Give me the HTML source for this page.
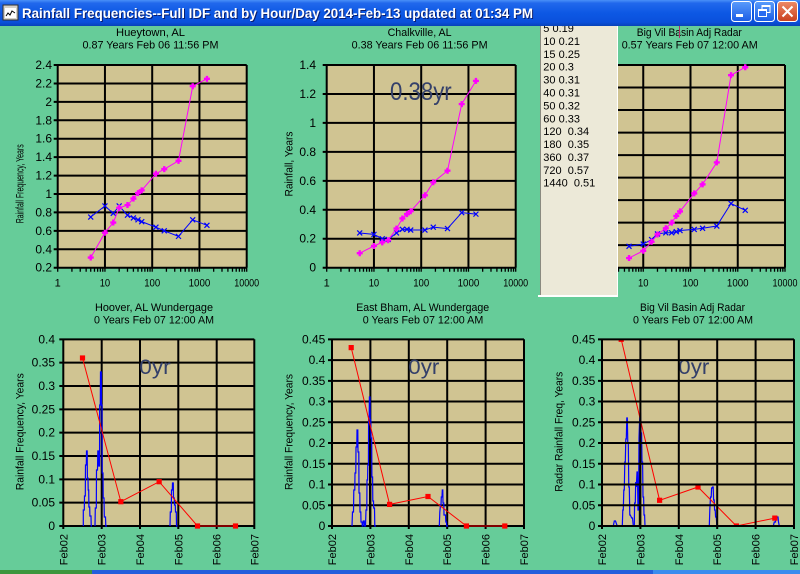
<!DOCTYPE html>
<html><head><meta charset="utf-8"><style>
html,body{margin:0;padding:0;background:#66cc99;}
svg{display:block;}
text{font-family:"Liberation Sans",Arial,sans-serif;}
</style></head><body>
<svg width="800" height="574" viewBox="0 0 800 574" xmlns="http://www.w3.org/2000/svg">
<defs>
<linearGradient id="tb" x1="0" y1="0" x2="0" y2="1">
<stop offset="0" stop-color="#4a90f8"/><stop offset="0.12" stop-color="#2168ec"/><stop offset="0.5" stop-color="#0d58e4"/><stop offset="0.85" stop-color="#0a50dc"/><stop offset="1" stop-color="#0842b8"/>
</linearGradient>
<linearGradient id="bb" x1="0" y1="0" x2="0" y2="1"><stop offset="0" stop-color="#5a9cfb"/><stop offset="1" stop-color="#1a5ce6"/></linearGradient>
<linearGradient id="bc" x1="0" y1="0" x2="0" y2="1"><stop offset="0" stop-color="#ee8a66"/><stop offset="1" stop-color="#c9401f"/></linearGradient>
<path id="lt" d="M0,0v4m14.22,-4v4m8.32,-4v4m5.91,-4v4m4.58,-4v4m3.74,-4v4m3.16,-4v4m2.74,-4v4m2.42,-4v4m2.16,-4v4m14.22,-4v4m8.32,-4v4m5.91,-4v4m4.58,-4v4m3.74,-4v4m3.16,-4v4m2.74,-4v4m2.42,-4v4m2.16,-4v4m14.22,-4v4m8.32,-4v4m5.91,-4v4m4.58,-4v4m3.74,-4v4m3.16,-4v4m2.74,-4v4m2.42,-4v4m2.16,-4v4m14.22,-4v4m8.32,-4v4m5.91,-4v4m4.58,-4v4m3.74,-4v4m3.16,-4v4m2.74,-4v4m2.42,-4v4m2.16,-4v4" stroke="#000" stroke-width="1.3" fill="none"/>
<marker id="mx" markerWidth="8" markerHeight="8" refX="0" refY="0" markerUnits="userSpaceOnUse" overflow="visible"><path d="M-2.5,-2.5L2.5,2.5M-2.5,2.5L2.5,-2.5" stroke="#0000ff" stroke-width="1.2" fill="none"/></marker>
<marker id="mp" markerWidth="8" markerHeight="8" refX="0" refY="0" markerUnits="userSpaceOnUse" overflow="visible"><path d="M-1.2,-3h2.4v1.8h1.8v2.4h-1.8v1.8h-2.4v-1.8h-1.8v-2.4h1.8z" fill="#ff00ff"/></marker>
<marker id="ms" markerWidth="8" markerHeight="8" refX="0" refY="0" markerUnits="userSpaceOnUse" overflow="visible"><rect x="-2.6" y="-2.6" width="5.2" height="5.2" fill="#ff0000"/></marker>
<clipPath id="cb3"><rect x="602" y="339.3" width="192" height="187"/></clipPath>
</defs>

<rect x="0" y="0" width="800" height="574" fill="#66cc99"/>

<!-- ===== TOP CHART 1 ===== -->
<g font-size="11" text-anchor="middle">
<text x="150.5" y="36" textLength="69" lengthAdjust="spacingAndGlyphs">Hueytown, AL</text>
<text x="150.5" y="48.7" textLength="136" lengthAdjust="spacingAndGlyphs">0.87 Years Feb 06 11:56 PM</text>
</g>
<rect x="57.7" y="65" width="189" height="202.7" fill="#d0c492"/>
<path d="M53.7,267.7H246.7M53.7,249.27H246.7M53.7,230.85H246.7M53.7,212.42H246.7M53.7,194H246.7M53.7,175.58H246.7M53.7,157.15H246.7M53.7,138.73H246.7M53.7,120.3H246.7M53.7,101.88H246.7M53.7,83.46H246.7M53.7,65.03H246.7M57.7,65V267.7M104.95,65V267.7M152.2,65V267.7M199.45,65V267.7M246.7,65V267.7" stroke="#000" stroke-width="2" fill="none"/>
<use href="#lt" x="57.7" y="267.7"/>
<g font-size="12" text-anchor="end">
<text x="52" y="271.7">0.2</text><text x="52" y="253.3">0.4</text><text x="52" y="234.9">0.6</text><text x="52" y="216.4">0.8</text><text x="52" y="198">1</text><text x="52" y="179.6">1.2</text><text x="52" y="161.2">1.4</text><text x="52" y="142.7">1.6</text><text x="52" y="124.3">1.8</text><text x="52" y="105.9">2</text><text x="52" y="87.5">2.2</text><text x="52" y="69">2.4</text>
</g>
<g font-size="11" text-anchor="middle">
<text x="57.7" y="286.5">1</text><text x="104.95" y="286.5" textLength="10.5" lengthAdjust="spacingAndGlyphs">10</text><text x="152.2" y="286.5" textLength="16" lengthAdjust="spacingAndGlyphs">100</text><text x="199.45" y="286.5" textLength="21.7" lengthAdjust="spacingAndGlyphs">1000</text><text x="246.7" y="286.5" textLength="25" lengthAdjust="spacingAndGlyphs">10000</text>
</g>
<text transform="translate(23.5,183.8) rotate(-90)" font-size="11" text-anchor="middle" textLength="79" lengthAdjust="spacingAndGlyphs">Rainfall Frequency, Years</text>
<polyline points="90.73,217.03 104.95,205.98 113.27,213.35 119.17,205.98 127.49,215.19 133.40,217.95 137.98,219.79 141.72,221.64 155.94,227.16 164.26,230.85 178.49,236.38 192.71,219.79 206.93,225.32" fill="none" stroke="#0000ff" stroke-width="1" marker-start="url(#mx)" marker-mid="url(#mx)" marker-end="url(#mx)"/>
<polyline points="90.73,257.56 104.95,232.69 113.27,222.56 119.17,207.82 127.49,205.05 133.40,198.61 137.98,193.08 141.72,190.32 155.94,173.71 164.26,169.13 178.49,160.84 192.71,86.22 206.93,78.85" fill="none" stroke="#ff00ff" stroke-width="1" marker-start="url(#mp)" marker-mid="url(#mp)" marker-end="url(#mp)"/>

<!-- ===== TOP CHART 2 ===== -->
<g font-size="11" text-anchor="middle">
<text x="419.6" y="36" textLength="64" lengthAdjust="spacingAndGlyphs">Chalkville, AL</text>
<text x="419.6" y="48.7" textLength="136" lengthAdjust="spacingAndGlyphs">0.38 Years Feb 06 11:56 PM</text>
</g>
<rect x="326.7" y="65" width="189" height="202.7" fill="#d0c492"/>
<path d="M322.7,267.7H515.7M322.7,238.74H515.7M322.7,209.78H515.7M322.7,180.83H515.7M322.7,151.87H515.7M322.7,122.91H515.7M322.7,93.95H515.7M322.7,65H515.7M326.7,65V267.7M373.95,65V267.7M421.2,65V267.7M468.45,65V267.7M515.7,65V267.7" stroke="#000" stroke-width="2" fill="none"/>
<use href="#lt" x="326.7" y="267.7"/>
<g font-size="12" text-anchor="end">
<text x="316" y="271.7">0</text><text x="316" y="242.7">0.2</text><text x="316" y="213.8">0.4</text><text x="316" y="184.8">0.6</text><text x="316" y="155.9">0.8</text><text x="316" y="126.9">1</text><text x="316" y="98">1.2</text><text x="316" y="69">1.4</text>
</g>
<g font-size="11" text-anchor="middle">
<text x="326.7" y="286.5">1</text><text x="373.95" y="286.5" textLength="10.5" lengthAdjust="spacingAndGlyphs">10</text><text x="421.2" y="286.5" textLength="16" lengthAdjust="spacingAndGlyphs">100</text><text x="468.45" y="286.5" textLength="21.7" lengthAdjust="spacingAndGlyphs">1000</text><text x="515.7" y="286.5" textLength="25" lengthAdjust="spacingAndGlyphs">10000</text>
</g>
<text transform="translate(292.5,164) rotate(-90)" font-size="11" text-anchor="middle" textLength="65" lengthAdjust="spacingAndGlyphs">Rainfall, Years</text>
<text x="390" y="100" font-size="25" fill="#34406a" textLength="61.7" lengthAdjust="spacingAndGlyphs">0.38yr</text>
<polyline points="359.73,232.95 373.95,234.40 382.27,238.74 388.17,239.47 396.49,232.95 402.40,229.33 406.98,229.33 410.72,230.05 424.94,230.05 433.26,227.16 447.49,228.61 461.71,212.68 475.93,214.13" fill="none" stroke="#0000ff" stroke-width="1" marker-start="url(#mx)" marker-mid="url(#mx)" marker-end="url(#mx)"/>
<polyline points="359.73,253.22 373.95,245.98 382.27,242.36 388.17,240.19 396.49,228.61 402.40,218.47 406.98,214.13 410.72,211.23 424.94,195.31 433.26,182.27 447.49,170.71 461.71,104.09 475.93,80.92" fill="none" stroke="#ff00ff" stroke-width="1" marker-start="url(#mp)" marker-mid="url(#mp)" marker-end="url(#mp)"/>

<!-- ===== TOP CHART 3 ===== -->
<g font-size="11" text-anchor="middle">
<text x="689.3" y="36" textLength="105" lengthAdjust="spacingAndGlyphs">Big Vil Basin Adj Radar</text>
<text x="689.7" y="48.5" textLength="136" lengthAdjust="spacingAndGlyphs">0.57 Years Feb 07 12:00 AM</text>
</g>
<rect x="596" y="65" width="189" height="202.7" fill="#d0c492"/>
<path d="M592,267.7H785M592,245.18H785M592,222.66H785M592,200.14H785M592,177.62H785M592,155.1H785M592,132.58H785M592,110.06H785M592,87.54H785M592,65.02H785M596,65V267.7M643.25,65V267.7M690.5,65V267.7M737.75,65V267.7M785,65V267.7" stroke="#000" stroke-width="2" fill="none"/>
<use href="#lt" x="596" y="267.7"/>
<g font-size="11" text-anchor="middle">
<text x="643.25" y="286.5" textLength="10.5" lengthAdjust="spacingAndGlyphs">10</text><text x="690.5" y="286.5" textLength="16" lengthAdjust="spacingAndGlyphs">100</text><text x="737.75" y="286.5" textLength="21.7" lengthAdjust="spacingAndGlyphs">1000</text><text x="785" y="286.5" textLength="25" lengthAdjust="spacingAndGlyphs">10000</text>
</g>
<polyline points="629.03,246.30 643.25,244.05 651.57,239.55 657.47,233.92 665.79,232.79 671.70,232.79 676.28,231.66 680.02,230.54 694.24,229.41 702.56,228.29 716.79,226.03 731.01,203.51 745.23,210.27" fill="none" stroke="#0000ff" stroke-width="1" marker-start="url(#mx)" marker-mid="url(#mx)" marker-end="url(#mx)"/>
<polyline points="629.03,258.02 643.25,250.81 651.57,241.80 657.47,234.48 665.79,228.29 671.70,222.66 676.28,215.90 680.02,211.40 694.24,193.38 702.56,184.37 716.79,162.41 731.01,75.14 745.23,67.25" fill="none" stroke="#ff00ff" stroke-width="1" marker-start="url(#mp)" marker-mid="url(#mp)" marker-end="url(#mp)"/>
<line x1="679.5" y1="26" x2="679.5" y2="38" stroke="#b0306a" stroke-width="1"/>

<!-- ===== LISTBOX ===== -->
<rect x="540" y="24" width="78" height="273" fill="#ece9d8"/>
<line x1="540.5" y1="24" x2="540.5" y2="296" stroke="#8a8a80" stroke-width="1"/>
<line x1="617.5" y1="24" x2="617.5" y2="297" stroke="#ffffff" stroke-width="1"/>
<rect x="538" y="295" width="80" height="2" fill="#ffffff"/>
<g font-size="11" fill="#000">
<text x="543.3" y="32.1">5 0.19</text>
<text x="543.3" y="45">10 0.21</text>
<text x="543.3" y="57.9">15 0.25</text>
<text x="543.3" y="70.7">20 0.3</text>
<text x="543.3" y="83.6">30 0.31</text>
<text x="543.3" y="96.5">40 0.31</text>
<text x="543.3" y="109.4">50 0.32</text>
<text x="543.3" y="122.3">60 0.33</text>
<text x="543.3" y="135.1" xml:space="preserve">120  0.34</text>
<text x="543.3" y="148" xml:space="preserve">180  0.35</text>
<text x="543.3" y="160.9" xml:space="preserve">360  0.37</text>
<text x="543.3" y="173.8" xml:space="preserve">720  0.57</text>
<text x="543.3" y="186.7" xml:space="preserve">1440  0.51</text>
</g>

<!-- ===== BOTTOM CHART 1 ===== -->
<g font-size="11" text-anchor="middle">
<text x="154" y="311" textLength="118" lengthAdjust="spacingAndGlyphs">Hoover, AL Wundergage</text>
<text x="154" y="323.7" textLength="120" lengthAdjust="spacingAndGlyphs">0 Years Feb 07 12:00 AM</text>
</g>
<rect x="63.3" y="339.3" width="191" height="186.7" fill="#d0c492"/>
<path d="M59.3,526H254.3M59.3,502.67H254.3M59.3,479.33H254.3M59.3,456H254.3M59.3,432.67H254.3M59.3,409.33H254.3M59.3,386H254.3M59.3,362.67H254.3M59.3,339.33H254.3M63.3,339.3V529M101.7,339.3V529M140,339.3V529M178.3,339.3V529M216.7,339.3V529M254.3,339.3V529" stroke="#000" stroke-width="2" fill="none"/>
<g font-size="12" text-anchor="end">
<text x="55" y="530">0</text><text x="55" y="506.7">0.05</text><text x="55" y="483.3">0.1</text><text x="55" y="460">0.15</text><text x="55" y="436.7">0.2</text><text x="55" y="413.3">0.25</text><text x="55" y="390">0.3</text><text x="55" y="366.7">0.35</text><text x="55" y="343.3">0.4</text>
</g>
<g font-size="11" text-anchor="end">
<text transform="translate(67.3,534) rotate(-90)">Feb02</text>
<text transform="translate(105.7,534) rotate(-90)">Feb03</text>
<text transform="translate(144,534) rotate(-90)">Feb04</text>
<text transform="translate(182.3,534) rotate(-90)">Feb05</text>
<text transform="translate(220.7,534) rotate(-90)">Feb06</text>
<text transform="translate(258.3,534) rotate(-90)">Feb07</text>
</g>
<text transform="translate(23.5,431.7) rotate(-90)" font-size="11" text-anchor="middle" textLength="117" lengthAdjust="spacingAndGlyphs">Rainfall Frequency, Years</text>
<text x="139.3" y="374" font-size="21" fill="#34406a" textLength="31.4" lengthAdjust="spacingAndGlyphs">0yr</text>
<g fill="none" stroke="#0000ff" stroke-width="1.2">
<polyline points="83.3,526 83.3,510 84.3,510 84.5,496 85.3,496 85.5,465 86.3,465 86.5,451 87.2,451 87.4,478 88,478 88.2,490 88.7,490 88.9,507 89.7,507 89.9,516 91,516 91.2,526 92,526"/>
<polyline points="95,526 95.3,508 96.3,508 96.5,470 97.5,470 97.8,451 98.6,451 98.8,466 99.5,466 99.7,405 100.3,405 100.5,372 101.3,372 101.5,405 102,405 102.2,473 103,473 103.2,498 104,498 104.3,517 105.5,517 105.8,526 107,526"/>
<polyline points="170,526 170.3,512 171.3,512 171.5,490 172.3,490 172.5,483 173.3,483 173.5,498 174.3,498 174.5,505 175.3,505 175.5,512 176.3,512 176.5,526 177.7,526"/>
</g>
<polyline points="82.5,358 120.85,501.7 159.15,481.7 197.5,526 235.5,526" fill="none" stroke="#ff0000" stroke-width="1" marker-start="url(#ms)" marker-mid="url(#ms)" marker-end="url(#ms)"/>

<!-- ===== BOTTOM CHART 2 ===== -->
<g font-size="11" text-anchor="middle">
<text x="422.7" y="311" textLength="133" lengthAdjust="spacingAndGlyphs">East Bham, AL Wundergage</text>
<text x="423" y="323.7" textLength="120.6" lengthAdjust="spacingAndGlyphs">0 Years Feb 07 12:00 AM</text>
</g>
<rect x="332" y="339.3" width="192" height="186.7" fill="#d0c492"/>
<path d="M328,526H524M328,505.26H524M328,484.52H524M328,463.78H524M328,443.04H524M328,422.3H524M328,401.56H524M328,380.82H524M328,360.08H524M328,339.34H524M332,339.3V529M370.4,339.3V529M408.8,339.3V529M447.2,339.3V529M485.6,339.3V529M524,339.3V529" stroke="#000" stroke-width="2" fill="none"/>
<g font-size="12" text-anchor="end">
<text x="325.3" y="530">0</text><text x="325.3" y="509.3">0.05</text><text x="325.3" y="488.5">0.1</text><text x="325.3" y="467.8">0.15</text><text x="325.3" y="447">0.2</text><text x="325.3" y="426.3">0.25</text><text x="325.3" y="405.6">0.3</text><text x="325.3" y="384.8">0.35</text><text x="325.3" y="364.1">0.4</text><text x="325.3" y="343.3">0.45</text>
</g>
<g font-size="11" text-anchor="end">
<text transform="translate(336,534) rotate(-90)">Feb02</text>
<text transform="translate(374.4,534) rotate(-90)">Feb03</text>
<text transform="translate(412.8,534) rotate(-90)">Feb04</text>
<text transform="translate(451.2,534) rotate(-90)">Feb05</text>
<text transform="translate(489.6,534) rotate(-90)">Feb06</text>
<text transform="translate(528,534) rotate(-90)">Feb07</text>
</g>
<text transform="translate(292.7,432) rotate(-90)" font-size="11" text-anchor="middle" textLength="116" lengthAdjust="spacingAndGlyphs">Rainfall Frequency, Years</text>
<text x="408.3" y="374" font-size="21" fill="#34406a" textLength="31" lengthAdjust="spacingAndGlyphs">0yr</text>
<rect x="369" y="423" width="1.8" height="103" fill="#000"/>
<g fill="none" stroke="#0000ff" stroke-width="1.2">
<polyline points="352,526 352.5,512 353.5,512 353.8,490 354.8,490 355,473 355.8,473 356,447 356.8,447 357,430 357.8,430 358,452 358.8,452 359,493 359.8,493 360,512 360.8,512 361,522 362,522 362.3,526 363,526 363.3,521 364.3,521 364.6,526 365.5,526 366,510 366.8,510 367,480 367.6,480 367.8,465 368.4,465 368.6,417 369.2,417 369.4,397 370,397 370.2,420 370.8,420 371,438 371.7,438 371.9,477 372.6,477 372.8,501 373.5,501 373.7,508 374.5,508 374.8,526 376,526"/>
<polyline points="439.3,526 439.8,512 440.5,505 441,505 441.3,497 442,497 442.3,490 442.8,490 443,503 443.8,503 444,515 445.5,515 445.8,522 446.5,522 446.7,526 448,526"/>
</g>
<polyline points="351.2,347.6 389.6,504.4 428,496.5 466.4,526 504.8,526" fill="none" stroke="#ff0000" stroke-width="1" marker-start="url(#ms)" marker-mid="url(#ms)" marker-end="url(#ms)"/>

<!-- ===== BOTTOM CHART 3 ===== -->
<g font-size="11" text-anchor="middle">
<text x="692.5" y="311" textLength="105" lengthAdjust="spacingAndGlyphs">Big Vil Basin Adj Radar</text>
<text x="693" y="323.7" textLength="120" lengthAdjust="spacingAndGlyphs">0 Years Feb 07 12:00 AM</text>
</g>
<rect x="602" y="339.3" width="192" height="186.7" fill="#d0c492"/>
<g font-size="12" text-anchor="end">
<text x="595.3" y="530">0</text><text x="595.3" y="509.3">0.05</text><text x="595.3" y="488.5">0.1</text><text x="595.3" y="467.8">0.15</text><text x="595.3" y="447">0.2</text><text x="595.3" y="426.3">0.25</text><text x="595.3" y="405.6">0.3</text><text x="595.3" y="384.8">0.35</text><text x="595.3" y="364.1">0.4</text><text x="595.3" y="343.3">0.45</text>
</g>
<g font-size="11" text-anchor="end">
<text transform="translate(606,534) rotate(-90)">Feb02</text>
<text transform="translate(644.4,534) rotate(-90)">Feb03</text>
<text transform="translate(682.8,534) rotate(-90)">Feb04</text>
<text transform="translate(721.2,534) rotate(-90)">Feb05</text>
<text transform="translate(759.6,534) rotate(-90)">Feb06</text>
<text transform="translate(798,534) rotate(-90)">Feb07</text>
</g>
<text transform="translate(562.3,431.7) rotate(-90)" font-size="11" text-anchor="middle" textLength="120" lengthAdjust="spacingAndGlyphs">Radar Rainfall Freq, Years</text>
<text x="678.3" y="374" font-size="21" fill="#34406a" textLength="31" lengthAdjust="spacingAndGlyphs">0yr</text>
<rect x="638.8" y="438" width="1.6" height="88" fill="#000"/>
<g fill="none" stroke="#0000ff" stroke-width="1.2">
<polyline points="613.3,526 614.3,521 615.5,521 616.5,524 617.3,526"/>
<polyline points="622.3,526 622.8,510 623.3,510 623.8,490 624.3,490 624.8,462 625.3,462 625.8,439 626.3,439 626.8,418 627.3,418 627.8,443 628.3,443 628.8,487 629.3,487 629.8,515 630.3,515 631.7,518 632.5,518 633.3,526"/>
<polyline points="634.3,526 634.6,503 635.3,503 635.7,482 636.3,487 637,472 637.4,472 638,510 638.5,510 639,438 639.5,423 640,413 640.5,413 641,433 641.6,433 642,462 642.6,462 643,497 643.6,497 644,515 644.6,515 645,526"/>
<polyline points="709.3,526 709.8,510 710.5,497 711.2,497 711.6,488 712.2,488 712.6,487 713.2,487 713.6,500 714.2,500 714.6,510 715.2,510 715.6,517 716.3,517 716.8,526 717.5,526"/>
<polyline points="773.3,526 774.3,522 775.5,522 776,517 778,517 778.5,522 779.3,526"/>
</g>
<g clip-path="url(#cb3)">
<polyline points="621.2,339.3 659.6,500.3 698,487 736.4,526 774.8,518.1" fill="none" stroke="#ff0000" stroke-width="1" marker-start="url(#ms)" marker-mid="url(#ms)" marker-end="url(#ms)"/>
</g>
<path d="M598,526H794M598,505.26H794M598,484.52H794M598,463.78H794M598,443.04H794M598,422.3H794M598,401.56H794M598,380.82H794M598,360.08H794M598,339.34H794M602,339.3V529M640.4,339.3V529M678.8,339.3V529M717.2,339.3V529M755.6,339.3V529M794,339.3V529" stroke="#000" stroke-width="2" fill="none" opacity="1" style="mix-blend-mode:normal" stroke-opacity="0" />
<path d="M598,526H794M598,505.26H794M598,484.52H794M598,463.78H794M598,443.04H794M598,422.3H794M598,401.56H794M598,380.82H794M598,360.08H794M598,339.34H794M602,339.3V529M640.4,339.3V529M678.8,339.3V529M717.2,339.3V529M755.6,339.3V529M794,339.3V529" stroke="#000" stroke-width="2" fill="none"/>

<!-- ===== TITLE BAR ===== -->
<rect x="0" y="0" width="800" height="26" fill="url(#tb)"/>
<rect x="3" y="5" width="15" height="15" fill="#d4d0c8" stroke="#303030" stroke-width="1"/>
<rect x="5" y="8" width="11" height="10" fill="#ffffff"/>
<polyline points="6,16 8,13 10,15 12,11 15,13" fill="none" stroke="#000" stroke-width="1"/>
<text x="23" y="19" font-size="14" font-weight="bold" fill="#0a1e6e" textLength="511" lengthAdjust="spacingAndGlyphs">Rainfall Frequencies--Full IDF and by Hour/Day 2014-Feb-13 updated at 01:34 PM</text>
<text x="22" y="18" font-size="14" font-weight="bold" fill="#ffffff" textLength="511" lengthAdjust="spacingAndGlyphs">Rainfall Frequencies--Full IDF and by Hour/Day 2014-Feb-13 updated at 01:34 PM</text>
<rect x="731.5" y="1.5" width="20" height="20" rx="3" fill="url(#bb)" stroke="#ffffff" stroke-width="1"/>
<rect x="736" y="14" width="7" height="3" fill="#ffffff"/>
<rect x="754.5" y="1.5" width="20" height="20" rx="3" fill="url(#bb)" stroke="#ffffff" stroke-width="1"/>
<rect x="762" y="5.5" width="8" height="7" fill="none" stroke="#ffffff" stroke-width="1"/>
<rect x="762" y="5" width="8" height="2" fill="#ffffff"/>
<rect x="758.5" y="9.5" width="8" height="7" fill="#2a6cf0" stroke="#ffffff" stroke-width="1"/>
<rect x="758.5" y="9" width="8" height="2" fill="#ffffff"/>
<rect x="777.5" y="1.5" width="20" height="20" rx="3" fill="url(#bc)" stroke="#ffffff" stroke-width="1"/>
<path d="M782.5,6.5L792.5,16.5M782.5,16.5L792.5,6.5" stroke="#ffffff" stroke-width="2"/>

<!-- ===== TASKBAR STRIP ===== -->
<rect x="0" y="570" width="800" height="4" fill="#245edc"/>
<rect x="0" y="570" width="92" height="4" fill="#3d963d"/>
<rect x="653" y="570" width="147" height="4" fill="#3a8cee"/>
</svg>
</body></html>
